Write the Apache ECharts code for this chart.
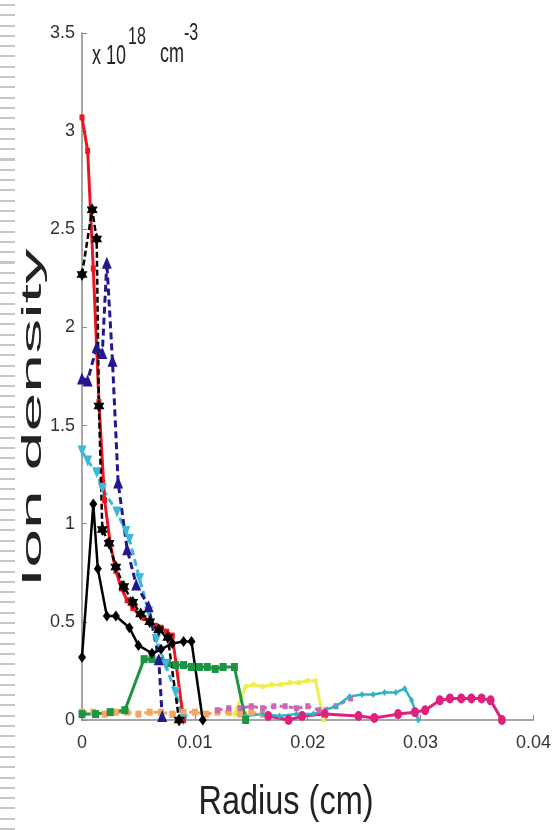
<!DOCTYPE html>
<html><head><meta charset="utf-8">
<script src="https://cdn.jsdelivr.net/npm/echarts@6/dist/echarts.min.js"></script>
<style>
html,body{margin:0;padding:0;background:#fff}
#chart{position:absolute;left:0;top:0;width:554px;height:830px;filter:blur(0.6px)}
#stripes{position:absolute;left:0;top:0;width:15px;height:830px;
background:repeating-linear-gradient(to bottom,transparent 0,transparent 4px,#c6c6c6 4px,#c6c6c6 6px,transparent 6px,transparent 10.3px);}
</style></head>
<body><div id="chart"></div><div id="stripes"></div>
<script>
// tick labels
const xTicks = [0, 0.01, 0.02, 0.03, 0.04];
const yTicks = [0, 0.5, 1, 1.5, 2, 2.5, 3, 3.5];

// red solid
const redR = [0, 0.0005, 0.001, 0.0015, 0.002, 0.0025, 0.003, 0.0035, 0.004, 0.0045, 0.005, 0.0055, 0.006, 0.0065, 0.007, 0.0075, 0.008, 0.009];
const redV = [3.07, 2.9, 2.3, 1.62, 1.12, 0.9, 0.76, 0.67, 0.61, 0.57, 0.54, 0.52, 0.5, 0.48, 0.47, 0.45, 0.43, 0.0];
// black stars, dashed
const starR = [0, 0.0009, 0.0013, 0.0015, 0.0018, 0.0024, 0.003, 0.0037, 0.0045, 0.0052, 0.006, 0.0068, 0.0076, 0.0086];
const starV = [2.27, 2.6, 2.45, 1.6, 0.97, 0.9, 0.78, 0.68, 0.6, 0.54, 0.5, 0.46, 0.42, 0.0];
// black diamonds, solid
const diaR = [0, 0.001, 0.0014, 0.0022, 0.003, 0.0042, 0.005, 0.0062, 0.007, 0.008, 0.009, 0.0097, 0.0107];
const diaV = [0.32, 1.1, 0.77, 0.53, 0.53, 0.47, 0.38, 0.34, 0.36, 0.39, 0.4, 0.4, 0.0];
// navy dashed triangles
const navR = [0, 0.0005, 0.0013, 0.0018, 0.0022, 0.0027, 0.0032, 0.004, 0.0048, 0.0059, 0.0068, 0.0071];
const navV = [1.74, 1.73, 1.9, 1.87, 2.33, 1.83, 1.21, 0.87, 0.69, 0.58, 0.31, 0.02];
// cyan dashed inverted triangles
const cyR = [0, 0.0005, 0.0013, 0.0018, 0.0031, 0.0039, 0.0042, 0.0051, 0.0059, 0.0066, 0.0074, 0.0083, 0.009];
const cyV = [1.37, 1.32, 1.26, 1.18, 1.06, 0.96, 0.92, 0.72, 0.55, 0.41, 0.28, 0.14, 0.0];
// green solid squares
const grR = [0, 0.0012, 0.0025, 0.0038, 0.0055, 0.0062, 0.0069, 0.0076, 0.0083, 0.009, 0.0097, 0.0104, 0.0111, 0.0118, 0.0125, 0.0135, 0.0145];
const grV = [0.03, 0.03, 0.04, 0.05, 0.31, 0.31, 0.3, 0.29, 0.28, 0.28, 0.27, 0.27, 0.27, 0.26, 0.27, 0.27, 0.0];
// orange dashed squares
const orR = [0, 0.001, 0.002, 0.003, 0.004, 0.005, 0.006, 0.007, 0.008, 0.009, 0.01, 0.011, 0.012, 0.013, 0.014, 0.015, 0.016];
const orV = [0.04, 0.04, 0.03, 0.04, 0.04, 0.03, 0.04, 0.04, 0.03, 0.04, 0.04, 0.03, 0.04, 0.04, 0.03, 0.04, 0.03];
// pink-purple dashed
const pkR = [0.012, 0.013, 0.014, 0.015, 0.016, 0.017, 0.018, 0.019, 0.02, 0.021, 0.0225, 0.0238];
const pkV = [0.05, 0.06, 0.06, 0.07, 0.06, 0.07, 0.07, 0.06, 0.07, 0.05, 0.07, 0.11];
// yellow solid
const ylR = [0.0135, 0.0145, 0.0152, 0.016, 0.0168, 0.0176, 0.0184, 0.0192, 0.02, 0.0207, 0.0214];
const ylV = [0.03, 0.17, 0.18, 0.17, 0.18, 0.18, 0.19, 0.19, 0.2, 0.2, 0.0];
// teal solid
const tlR = [0.0145, 0.016, 0.0175, 0.019, 0.0205, 0.0225, 0.0237, 0.0248, 0.0258, 0.0268, 0.0278, 0.0286, 0.0292, 0.0298];
const tlV = [0.02, 0.03, 0.02, 0.03, 0.03, 0.07, 0.12, 0.13, 0.13, 0.14, 0.14, 0.16, 0.1, 0.0];
// magenta solid circles
const mgR = [0.0165, 0.0183, 0.0195, 0.0215, 0.0245, 0.0259, 0.028, 0.0295, 0.0304, 0.0317, 0.0326, 0.0336, 0.0345, 0.0354, 0.0362, 0.0372];
const mgV = [0.02, 0.0, 0.02, 0.03, 0.02, 0.01, 0.03, 0.04, 0.05, 0.1, 0.11, 0.11, 0.11, 0.11, 0.1, 0.0];

const pts = (r, v) => r.map((x, i) => [x, v[i]]);
const star = 'path://M0,-10L2.9,-5L8.7,-5L5.8,0L8.7,5L2.9,5L0,10L-2.9,5L-8.7,5L-5.8,0L-8.7,-5L-2.9,-5Z';

function line(r, v, color, width, type, symbol, size, extra) {
  return Object.assign({
    type: 'line', data: pts(r, v), showSymbol: !!symbol, symbol: symbol || 'none',
    symbolSize: size, animation: false,
    lineStyle: { color: color, width: width, type: type },
    itemStyle: { color: color, borderWidth: 0 },
    emphasis: { disabled: true }
  }, extra || {});
}

const FF = 'Liberation Sans, Arial, sans-serif';
const chart = echarts.init(document.getElementById('chart'), null, { renderer: 'canvas' });
chart.setOption({
  animation: false,
  grid: { left: 82, right: 14, top: 33, bottom: 110, containLabel: false },
  xAxis: {
    type: 'value', min: 0, max: 0.04, interval: 0.01,
    axisLine: { show: true, lineStyle: { color: '#8a8a8a', width: 1.5 } },
    axisTick: { show: true, inside: true, length: 5, lineStyle: { color: '#8a8a8a' } },
    splitLine: { show: false },
    axisLabel: { fontSize: 18, color: '#333', margin: 14, fontFamily: FF,
      formatter: v => xTicks.includes(+v.toFixed(3)) ? String(+v.toFixed(3)) : '' }
  },
  yAxis: {
    type: 'value', min: 0, max: 3.5, interval: 0.5,
    axisLine: { show: true, lineStyle: { color: '#8a8a8a', width: 1.5 } },
    axisTick: { show: true, inside: true, length: 5, lineStyle: { color: '#8a8a8a' } },
    splitLine: { show: false },
    axisLabel: { fontSize: 18, color: '#333', margin: 7, fontFamily: FF,
      formatter: v => yTicks.includes(+v.toFixed(2)) ? String(+v.toFixed(2)) : '' }
  },
  series: [
    line(orR, orV, '#f2a860', 3, [5, 4], 'rect', [6, 7]),
    line(pkR, pkV, '#c868b8', 3, [5, 4], 'rect', [5, 6]),
    line(mgR, mgV, '#e0207c', 3, 'solid', 'circle', [8, 10]),
    line(tlR, tlV, '#30b4c4', 2.5, 'solid', 'diamond', [5, 7]),
    line(ylR, ylV, '#eeee50', 3, 'solid', 'rect', [4, 5]),
    line(grR, grV, '#1b9444', 3, 'solid', 'rect', [7, 8]),
    line(cyR, cyV, '#3cb8d8', 3, [7, 4], 'triangle', [9, 11], { symbolRotate: 180 }),
    line(navR, navV, '#22188e', 3, [7, 4], 'triangle', [10, 12]),
    line(redR, redV, '#ec1520', 3, 'solid', 'rect', [5, 6]),
    line(starR, starV, '#000000', 2.5, [6, 3], star, [11, 13]),
    line(diaR, diaV, '#000000', 2.5, 'solid', 'diamond', [8, 11])
  ],
  graphic: [
    { type: 'text', x: 33, y: 418, rotation: Math.PI / 2, scaleX: 2.5, scaleY: 1,
      style: { text: 'Ion density', fontSize: 28, fill: '#222', align: 'center', verticalAlign: 'middle', fontFamily: FF } },
    { type: 'text', x: 286, y: 803, scaleX: 1.25, scaleY: 1.55,
      style: { text: 'Radius (cm)', fontSize: 26, fill: '#222', align: 'center', verticalAlign: 'middle', fontFamily: FF } },
    { type: 'text', x: 92, y: 57, scaleY: 1.5,
      style: { text: 'x 10', fontSize: 18, fill: '#222', align: 'left', verticalAlign: 'middle', fontFamily: FF } },
    { type: 'text', x: 128, y: 37, scaleY: 1.5,
      style: { text: '18', fontSize: 16, fill: '#222', align: 'left', verticalAlign: 'middle', fontFamily: FF } },
    { type: 'text', x: 160, y: 55, scaleY: 1.5,
      style: { text: 'cm', fontSize: 18, fill: '#222', align: 'left', verticalAlign: 'middle', fontFamily: FF } },
    { type: 'text', x: 184, y: 33, scaleY: 1.5,
      style: { text: '-3', fontSize: 16, fill: '#222', align: 'left', verticalAlign: 'middle', fontFamily: FF } }
  ]
});
</script>
</body></html>
